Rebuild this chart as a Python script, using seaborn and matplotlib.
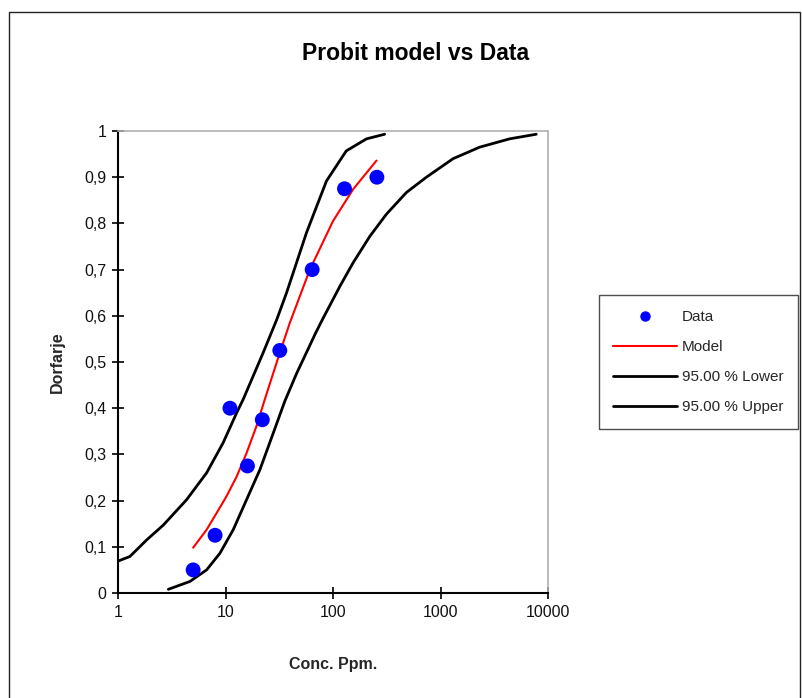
import numpy as np
import pandas as pd
import matplotlib
matplotlib.use("Agg")
import matplotlib.pyplot as plt
import matplotlib.ticker as ticker
from matplotlib.lines import Line2D
from matplotlib.patches import Rectangle
import seaborn as sns

# observed data
conc = [5, 8, 11, 16, 22, 32, 64, 128, 256]
dorfarje = [0.05, 0.125, 0.40, 0.275, 0.375, 0.525, 0.70, 0.875, 0.90]

# model curve
model_conc = [5.0, 6.67, 8.26, 10.2, 12.7, 15.7, 19.4, 23.2, 32, 39.7, 60.9, 100, 154, 254]
model_y = [0.098, 0.137, 0.173, 0.209, 0.252, 0.303, 0.361, 0.419, 0.52, 0.585, 0.70, 0.805,
           0.874, 0.936]

# 95 % limits
lower_conc = [1.0, 1.29, 1.85, 2.64, 4.35, 6.67, 9.5, 12.7, 14.6, 22.4, 30, 37, 56.7, 87, 133, 205, 302]
lower_y = [0.069, 0.079, 0.115, 0.147, 0.202, 0.26, 0.325, 0.39, 0.419, 0.52, 0.592, 0.65, 0.78, 0.892,
           0.957, 0.983, 0.993]
upper_conc = [2.94, 4.67, 6.67, 8.87, 11.8, 15.7, 20.9, 27.8, 35.6, 45.8, 52.7, 69, 81, 116, 154, 220,
              314, 482, 739, 1307, 2313, 4395, 7783]
upper_y = [0.008, 0.025, 0.05, 0.086, 0.137, 0.202, 0.267, 0.346, 0.415, 0.475, 0.505, 0.563, 0.595,
           0.664, 0.715, 0.772, 0.82, 0.867, 0.90, 0.94, 0.965, 0.983, 0.993]

x_ticks = [1, 10, 100, 1000, 10000]
y_ticks = [0, 0.1, 0.2, 0.3, 0.4, 0.5, 0.6, 0.7, 0.8, 0.9, 1]

sns.set_style("white")
plt.rcParams['font.family'] = ['Liberation Sans', 'DejaVu Sans']

fig = plt.figure(figsize=(8.03, 6.98), dpi=100)
ax = fig.add_axes([118 / 803, 1 - 593 / 698, 430 / 803, 462 / 698])

sns.lineplot(x=lower_conc, y=lower_y, ax=ax, color="black", linewidth=2.0, sort=False)
sns.lineplot(x=upper_conc, y=upper_y, ax=ax, color="black", linewidth=2.0, sort=False)
sns.lineplot(x=model_conc, y=model_y, ax=ax, color="red", linewidth=1.5, sort=False)
sns.scatterplot(x=conc, y=dorfarje, ax=ax, color="#0000ff", s=115, edgecolor="none", zorder=5)

ax.set_xscale("log")
ax.set_xlim(1, 10000)
ax.set_ylim(0, 1)
ax.set_xticks(x_ticks)
ax.xaxis.set_major_formatter(ticker.FuncFormatter(lambda v, p: f"{v:g}"))
ax.xaxis.set_minor_locator(ticker.NullLocator())
ax.set_yticks(y_ticks)
ax.yaxis.set_major_formatter(ticker.FuncFormatter(lambda v, p: f"{v:g}".replace(".", ",")))
ax.tick_params(axis="both", direction="inout", length=9, width=1.2, labelsize=11.5,
               color="black", labelcolor="#111111", left=True, bottom=True, pad=4)

for s in ["left", "bottom"]:
    ax.spines[s].set_color("black")
    ax.spines[s].set_linewidth(1.5)
for s in ["top", "right"]:
    ax.spines[s].set_color("#b0b0b0")
    ax.spines[s].set_linewidth(1.2)

ax.set_xlabel("Conc. Ppm.", fontsize=11.5, fontweight="bold", labelpad=27)
ax.set_ylabel("Dorfarje", fontsize=11.5, fontweight="bold", labelpad=14)

fig.text(416 / 803, 1 - 54 / 698, "Probit model vs Data", ha="center", va="center",
         fontsize=16.5, fontweight="bold", color="black")

handles = [
    Line2D([], [], marker="o", color="#0000ff", linestyle="none", markersize=6.5),
    Line2D([], [], color="red", linewidth=1.5),
    Line2D([], [], color="black", linewidth=2.0),
    Line2D([], [], color="black", linewidth=2.0),
]
labels = ["Data", "Model", "95.00 % Lower", "95.00 % Upper"]
leg = fig.legend(handles, labels, loc="center", bbox_to_anchor=(698.5 / 803, 1 - 362 / 698),
                 frameon=True, fancybox=False, fontsize=11, handlelength=4.2,
                 labelspacing=1.05, borderpad=0.95, handletextpad=0.3, borderaxespad=0)
leg.get_frame().set_edgecolor("#222222")
leg.get_frame().set_linewidth(1.0)

fig.patches.append(Rectangle((9 / 803, -0.01), 791 / 803, 1 - 12 / 698 + 0.01,
                             transform=fig.transFigure, fill=False,
                             edgecolor="#222222", linewidth=1.0))

fig.savefig("out.png", dpi=100)
